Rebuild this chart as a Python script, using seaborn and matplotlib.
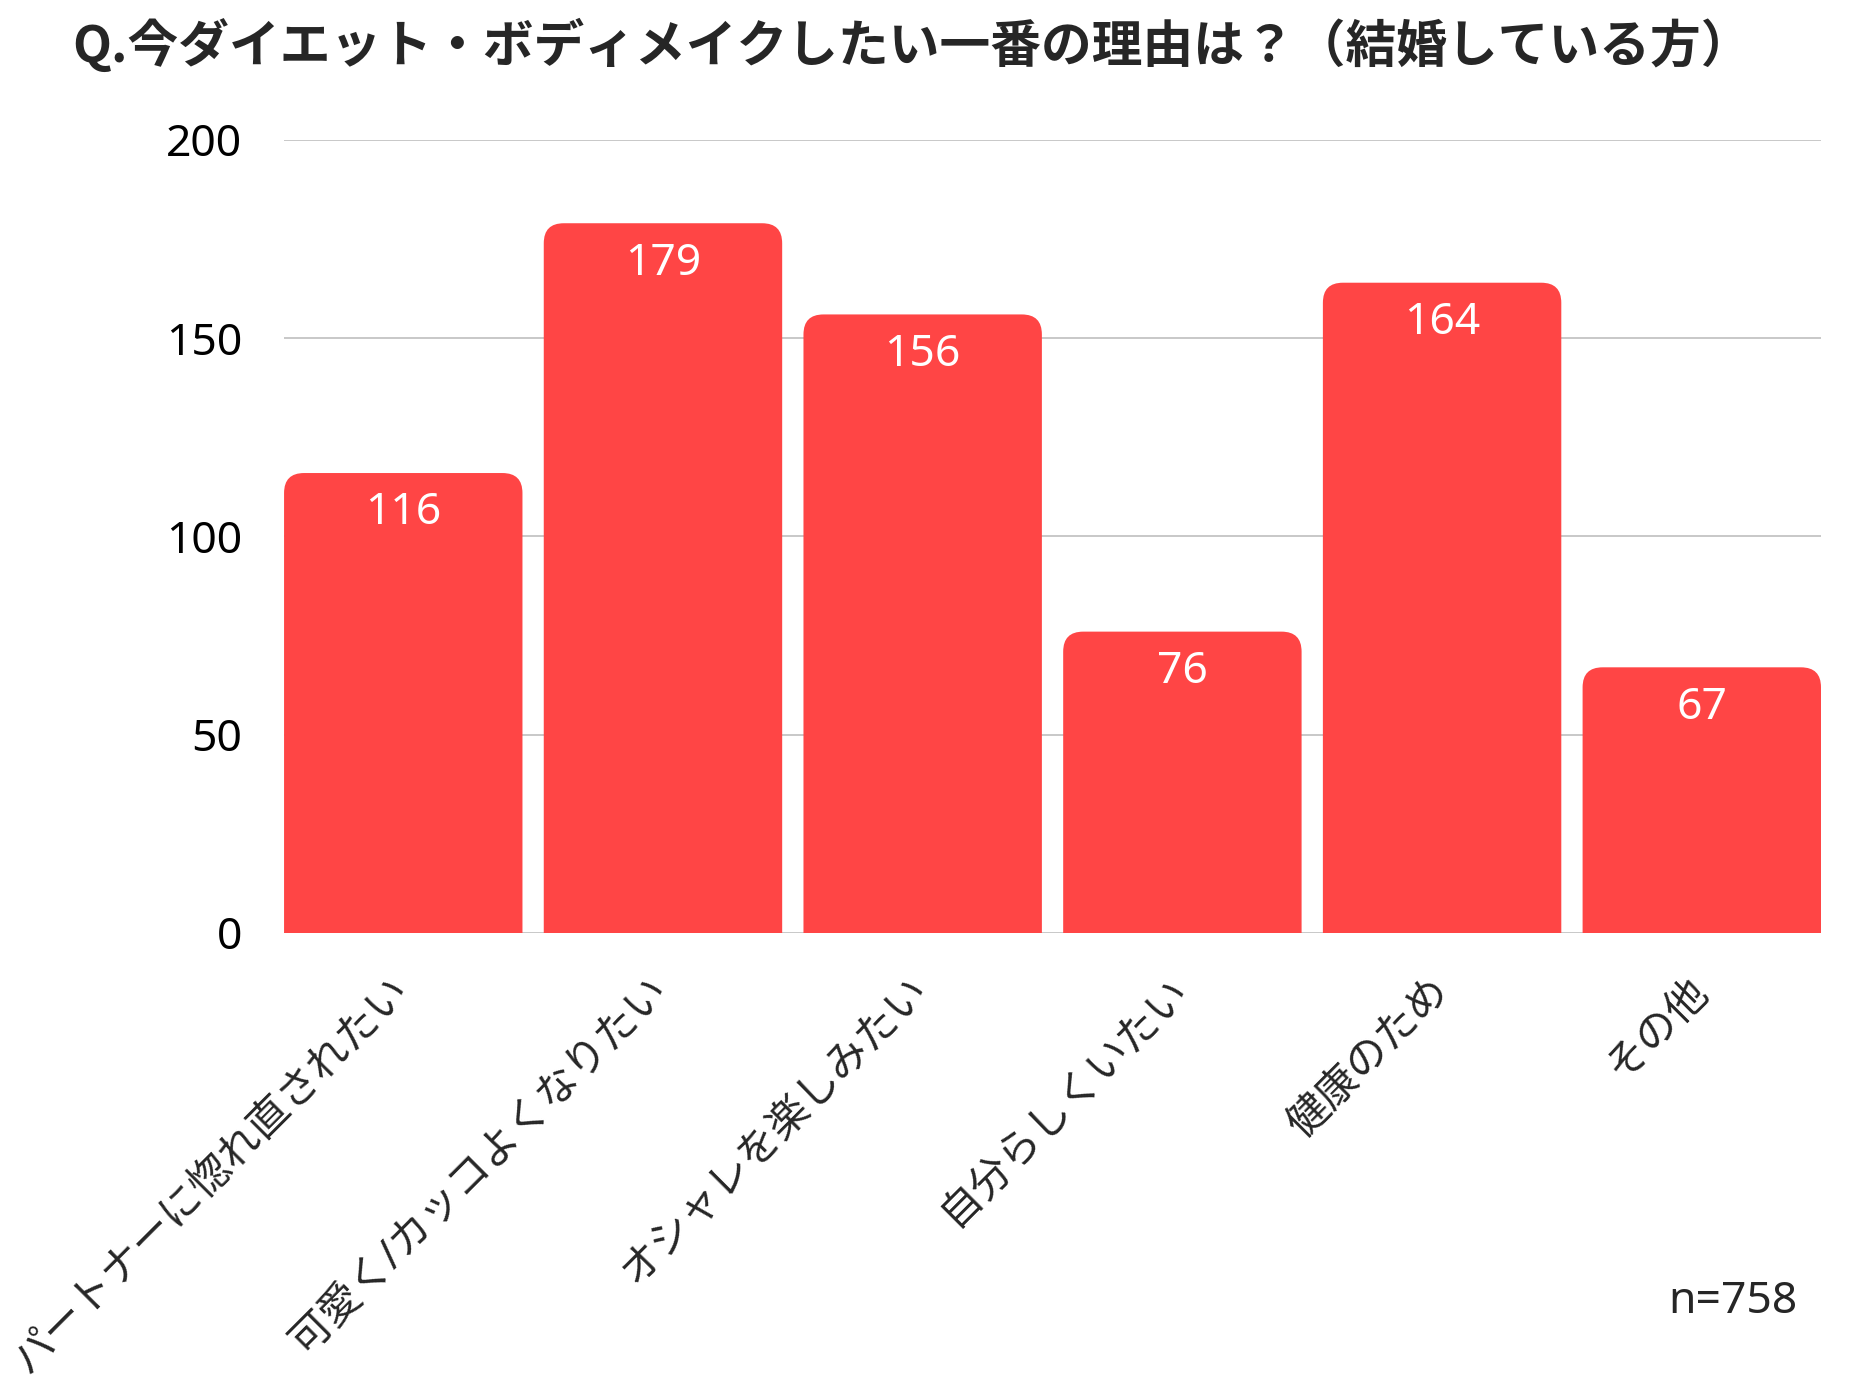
import pandas as pd
import matplotlib.pyplot as plt
import seaborn as sns
from matplotlib.patches import FancyBboxPatch

# Data
categories = ["パートナーに惚れ直されたい", "可愛く/カッコよくなりたい", "オシャレを楽しみたい",
              "自分らしくいたい", "健康のため", "その他"]
counts = [116, 179, 156, 76, 164, 67]
y_ticks = [0, 50, 100, 150, 200]
title = "Q.今ダイエット・ボディメイクしたい一番の理由は？（結婚している方）"
note = "n=758"

df = pd.DataFrame({"reason": categories, "count": counts})

bar_color = "#FF4545"
grid_color = "#C4C4C4"

sns.set_style("white")
plt.rcParams["font.family"] = ["Noto Sans", "Noto Sans CJK JP", "DejaVu Sans"]

fig = plt.figure(figsize=(18.7, 13.9), dpi=100)
ax = fig.add_axes([0.1519, 0.3288, 0.9738 - 0.1519, 0.8993 - 0.3288])

bar_w = 0.918
sns.barplot(data=df, x="reason", y="count", color=bar_color, width=bar_w,
            saturation=1, ax=ax, zorder=3)

ax.set_xlim(-bar_w / 2, len(categories) - 1 + bar_w / 2)
ax.set_ylim(0, 200)

# swap plain bars for bars with rounded top corners (bottom rounding hidden below y=0)
fig.canvas.draw()
px_x = (ax.get_xlim()[1] - ax.get_xlim()[0]) / ax.get_window_extent().width
px_y = (ax.get_ylim()[1] - ax.get_ylim()[0]) / ax.get_window_extent().height
radius_px = 20
radius = radius_px * px_x
drop = 2 * radius_px * px_y
for p in list(ax.patches):
    x0, w, h = p.get_x(), p.get_width(), p.get_height()
    p.remove()
    bar = FancyBboxPatch((x0, -drop), w, h + drop,
                         boxstyle=f"round,pad=0,rounding_size={radius}",
                         mutation_aspect=px_y / px_x,
                         fc=bar_color, ec="none", zorder=3)
    ax.add_patch(bar)
    bar.set_clip_path(ax.patch)
    ax.annotate(f"{h:.0f}", (x0 + w / 2, h), xytext=(0, -29), textcoords="offset points",
                ha="center", va="center", color="white", fontsize=32, zorder=4)

# grid
ax.set_yticks(y_ticks)
for t in y_ticks:
    ax.axhline(t, color=grid_color, lw=1.3, zorder=1)
sns.despine(ax=ax, left=True, bottom=True, top=True, right=True)

ax.set_xlabel("")
ax.set_ylabel("")
ax.tick_params(axis="y", length=0, pad=30, labelsize=32, labelcolor="black")
ax.tick_params(axis="x", length=0, pad=37, labelsize=30)
ax.set_xticks(range(len(categories)))
ax.set_xticklabels(categories, rotation=45, ha="right", va="center", rotation_mode="anchor")

fig.text(0.0385, 0.967, title, ha="left", va="center", fontsize=36.5, fontweight="bold",
         family=["Noto Sans CJK JP"])
fig.text(0.961, 0.0633, note, ha="right", va="center", fontsize=32)

fig.savefig("out.png", dpi=100, facecolor="white")
